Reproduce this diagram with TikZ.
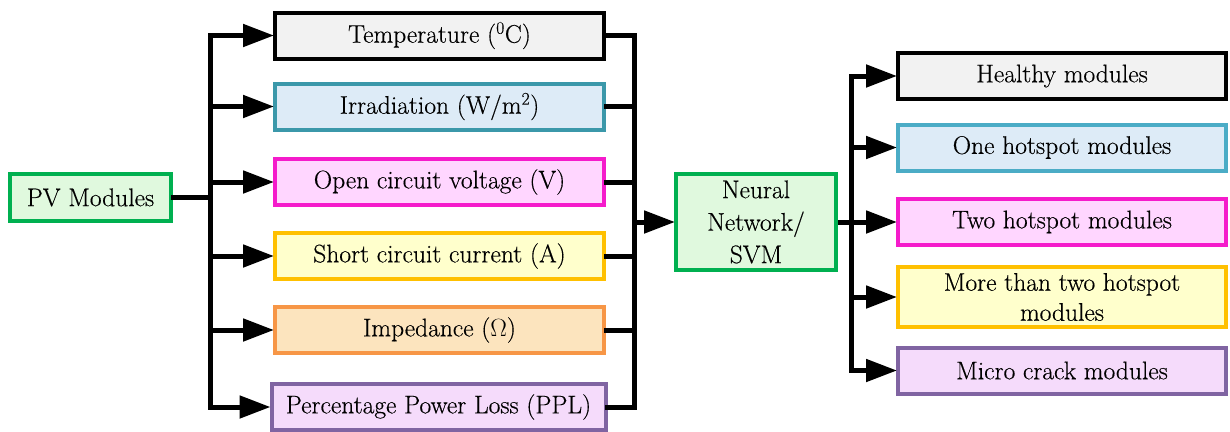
\documentclass[tikz,border=0pt]{standalone}
\usepackage{fontspec}
\setmainfont{Latin Modern Roman}[FakeBold=0.35]
\usetikzlibrary{arrows.meta}
\definecolor{cgreen}{HTML}{00B050}
\definecolor{fgreen}{HTML}{E0F9DE}
\definecolor{fgrey}{HTML}{F2F2F2}
\definecolor{cteal}{HTML}{3B98AA}
\definecolor{cteal2}{HTML}{4BACC6}
\definecolor{fblue}{HTML}{DDEBF7}
\definecolor{cmag}{HTML}{F51BCB}
\definecolor{fmag}{HTML}{FFD6FF}
\definecolor{cyel}{HTML}{FFC000}
\definecolor{fyel}{HTML}{FFFFCC}
\definecolor{corg}{HTML}{F79646}
\definecolor{forg}{HTML}{FCE4BE}
\definecolor{cpur}{HTML}{8064A2}
\definecolor{fpur}{HTML}{F5DBFB}
\tikzset{
  box/.style={draw, line width=4pt, inner sep=0pt, align=center,
    font=\fontsize{25.5}{30}\selectfont},
  inbox/.style={box, minimum width=329pt, minimum height=46pt},
  outbox/.style={box, minimum width=328pt, minimum height=46pt},
  conn/.style={line width=5pt, line cap=rect, line join=miter},
  arr/.style={line width=5pt, -{Triangle[length=31pt,width=22pt]}, shorten >=-1pt},
}
\begin{document}
\begin{tikzpicture}[x=1pt,y=-1pt]
\useasboundingbox (0,0) rectangle (1230,431);
% input boxes
\node[box, draw=cgreen, fill=fgreen, minimum width=161pt, minimum height=47pt] (pv) at (90.5,197.5) {PV Modules};
\node[inbox, draw=black, fill=fgrey] (temp) at (439.5,35.5) {Temperature (\textsuperscript{0}C)};
\node[inbox, draw=cteal, fill=fblue] (irr) at (439.5,106.5) {Irradiation (W/m\textsuperscript{2})};
\node[inbox, draw=cmag, fill=fmag] (voc) at (439.5,182) {Open circuit voltage (V)};
\node[inbox, draw=cyel, fill=fyel] (isc) at (439.5,256) {Short circuit current (A)};
\node[inbox, draw=corg, fill=forg] (imp) at (439.5,330) {Impedance (\ensuremath{\Omega})};
\node[box, draw=cpur, fill=fpur, minimum width=334pt, minimum height=46pt] (ppl) at (438.5,407) {Percentage Power Loss (PPL)};
% classifier
\node[box, draw=cgreen, fill=fgreen, minimum width=160pt, minimum height=96pt, font=\fontsize{25.5}{32.5}\selectfont] (nn) at (756,222) {Neural\\Network/\\SVM};
% output boxes
\node[outbox, draw=black, fill=fgrey] (h) at (1062,76) {Healthy modules};
\node[outbox, draw=cteal2, fill=fblue] (o1) at (1062,147.5) {One hotspot modules};
\node[outbox, draw=cmag, fill=fmag] (o2) at (1062,222) {Two hotspot modules};
\node[outbox, draw=cyel, fill=fyel, minimum height=60pt] (o3) at (1062,297) {More than two hotspot\\modules};
\node[outbox, draw=cpur, fill=fpur] (mc) at (1062,370.5) {Micro crack modules};
% buses
\coordinate (lbus) at (210,0);
\coordinate (rbus) at (634,0);
\coordinate (obus) at (851,0);
\draw[conn] (pv.east) -- (pv.east -| lbus);
\draw[conn] (lbus |- temp) -- (lbus |- ppl);
\foreach \b in {temp,irr,voc,isc,imp,ppl} \draw[arr] (lbus |- \b) -- (\b.west);
\draw[conn] (temp.east) -- (rbus |- temp) -- (rbus |- ppl) -- (ppl.east);
\foreach \b in {irr,voc,isc,imp} \draw[conn] (\b.east) -- (rbus |- \b);
\draw[arr] (rbus |- nn) -- (nn.west);
\draw[conn] (obus |- h) -- (obus |- mc);
\foreach \b in {h,o1,o3,mc} \draw[arr] (obus |- \b) -- (\b.west);
\draw[arr] (nn.east) -- (o2.west);
\end{tikzpicture}
\end{document}
